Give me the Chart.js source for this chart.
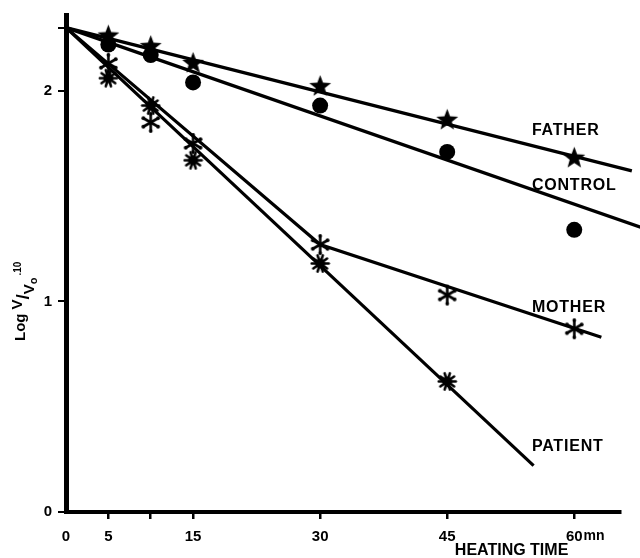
<!DOCTYPE html>
<html>
<head>
<meta charset="utf-8">
<script src="https://cdn.jsdelivr.net/npm/chart.js@4.4.1/dist/chart.umd.min.js"></script>
<style>
  html, body { margin: 0; padding: 0; background: #fff; }
  canvas { display: block; }
</style>
</head>
<body>
<canvas id="heatChart" width="640" height="558"></canvas>
<script>
// heating time (mn) and log values
const times = [5, 10, 15, 30, 45, 60];
const fatherValues = [2.26, 2.21, 2.13, 2.02, 1.86, 1.68];
const controlValues = [2.22, 2.17, 2.04, 1.93, 1.71, 1.34];
const motherValues = [2.13, 1.85, 1.75, 1.27, 1.03, 0.87];
const patientTimes = [5, 10, 15, 30, 45];
const patientValues = [2.06, 1.93, 1.67, 1.18, 0.62];

// drawn regression lines (time, value)
const fatherLine = [[0, 2.3], [66.8, 1.62]];
const controlLine = [[0, 2.3], [68, 1.35]];
const motherLine = [[0, 2.3], [30, 1.27], [63.2, 0.83]];
const patientLine = [[0, 2.3], [55.2, 0.22]];

// axis ticks
const xTicks = [0, 5, 10, 15, 30, 45, 60];
const xTickLabels = ['0', '5', '', '15', '30', '45', '60'];
const yTicks = [0, 1, 2, 2.3];
const yTickLabels = ['0', '1', '2', ''];

// curve names and where they sit (time, value)
const seriesNames = ['FATHER', 'CONTROL', 'MOTHER', 'PATIENT'];
const nameAnchors = [[55, 1.81], [55, 1.55], [55, 0.97], [55, 0.31]];

const FONT = '"Liberation Sans", Arial, Helvetica, sans-serif';

//マーカー画像
function makeStar(r) {
  const c = document.createElement('canvas');
  const s = Math.ceil(2 * r + 4);
  c.width = c.height = s;
  const g = c.getContext('2d');
  g.translate(s / 2, s / 2);
  g.beginPath();
  for (let i = 0; i < 10; i++) {
    const rad = i % 2 ? r * 0.42 : r;
    const a = -Math.PI / 2 + i * Math.PI / 5;
    g.lineTo(rad * Math.cos(a), rad * Math.sin(a));
  }
  g.closePath();
  g.fillStyle = '#000';
  g.fill();
  return c;
}

function makeAsterisk(r) {
  const c = document.createElement('canvas');
  const s = Math.ceil(2 * r + 6);
  c.width = c.height = s;
  const g = c.getContext('2d');
  g.translate(s / 2, s / 2);
  g.strokeStyle = '#000';
  g.fillStyle = '#000';
  g.lineWidth = 2.6;
  g.lineCap = 'round';
  for (let i = 0; i < 6; i++) {
    const a = Math.PI / 2 + i * Math.PI / 3;
    g.beginPath();
    g.moveTo(0, 0);
    g.lineTo(r * Math.cos(a), r * Math.sin(a));
    g.stroke();
    g.beginPath();
    g.arc(r * Math.cos(a), r * Math.sin(a), 1.9, 0, Math.PI * 2);
    g.fill();
  }
  return c;
}

function makeSplat(r) {
  const c = document.createElement('canvas');
  const s = Math.ceil(2 * r + 4);
  c.width = c.height = s;
  const g = c.getContext('2d');
  g.translate(s / 2, s / 2);
  g.fillStyle = '#000';
  g.strokeStyle = '#000';
  g.beginPath();
  g.arc(0, 0, r * 0.6, 0, Math.PI * 2);
  g.fill();
  g.lineWidth = 2.6;
  g.lineCap = 'round';
  for (let i = 0; i < 10; i++) {
    const a = i * Math.PI / 5;
    g.beginPath();
    g.moveTo(0, 0);
    g.lineTo(r * Math.cos(a), r * Math.sin(a));
    g.stroke();
  }
  return c;
}

function toPoints(xs, ys) {
  return xs.map((x, i) => ({ x: x, y: ys[i] }));
}
function linePoints(arr) {
  return arr.map(p => ({ x: p[0], y: p[1] }));
}

function fitLine(label, arr) {
  return {
    label: label,
    data: linePoints(arr),
    showLine: true,
    borderColor: '#000',
    borderWidth: 3.2,
    pointRadius: 0,
    clip: false,
  };
}
function markers(label, data, style, radius) {
  return {
    label: label,
    data: data,
    showLine: false,
    pointStyle: style,
    pointRadius: radius,
    backgroundColor: '#000',
    borderColor: '#000',
    borderWidth: 0,
    clip: false,
  };
}

//文字の描画（系列名・軸タイトル）
const annotate = {
  id: 'annotate',
  afterDraw(chart) {
    const ctx = chart.ctx;
    const xs = chart.scales.x;
    const ys = chart.scales.y;
    ctx.save();
    ctx.fillStyle = '#000';

    // curve names
    ctx.font = 'bold 16px ' + FONT;
    ctx.letterSpacing = '0.8px';
    ctx.textAlign = 'left';
    ctx.textBaseline = 'middle';
    seriesNames.forEach((name, i) => {
      ctx.fillText(name, xs.getPixelForValue(nameAnchors[i][0]), ys.getPixelForValue(nameAnchors[i][1]));
    });

    // "mn" after the 60 tick label
    ctx.letterSpacing = '0px';
    ctx.font = 'bold 15px ' + FONT;
    const w60 = ctx.measureText('60').width;
    ctx.font = 'bold 14px ' + FONT;
    ctx.fillText('mn', xs.getPixelForValue(60) + w60 / 2 + 1, xs.top + 24);

    // x title
    ctx.font = 'bold 16px ' + FONT;
    ctx.textAlign = 'center';
    ctx.textBaseline = 'alphabetic';
    ctx.fillText('HEATING TIME', xs.getPixelForValue(52.6), 555);

    // y title: Log V/Vo .10 (rotated)
    ctx.translate(25, 341);
    ctx.rotate(-Math.PI / 2);
    ctx.textAlign = 'left';
    let px = 0;
    const part = (txt, size, dy) => {
      ctx.font = 'bold ' + size + 'px ' + FONT;
      ctx.fillText(txt, px, dy);
      px += ctx.measureText(txt).width;
    };
    part('Log', 15, 0);
    px += 4;
    part('V', 15, -3);
    part('/', 19, 4);
    part('V', 15, 9);
    part('o', 11, 12);
    px += 2;
    part('.10', 10, -4);
    ctx.restore();
  }
};

const ctx = document.getElementById('heatChart').getContext('2d');
window.heatChart = new Chart(ctx, {
  type: 'scatter',
  data: {
    datasets: [
      fitLine('FATHER line', fatherLine),
      fitLine('CONTROL line', controlLine),
      fitLine('MOTHER line', motherLine),
      fitLine('PATIENT line', patientLine),
      markers('FATHER', toPoints(times, fatherValues), makeStar(11.5), 11),
      markers('CONTROL', toPoints(times, controlValues), 'circle', 8),
      markers('MOTHER', toPoints(times, motherValues), makeAsterisk(8.5), 8),
      markers('PATIENT', toPoints(patientTimes, patientValues), makeSplat(8.5), 8),
    ]
  },
  options: {
    responsive: false,
    animation: false,
    events: [],
    layout: { padding: { left: 0, top: 10, right: 20, bottom: 0 } },
    plugins: {
      legend: { display: false },
      tooltip: { enabled: false },
    },
    scales: {
      x: {
        type: 'linear',
        min: 0,
        max: 65.4,
        afterBuildTicks: (scale) => { scale.ticks = xTicks.map(v => ({ value: v })); },
        afterFit: (scale) => { scale.height = 46; },
        ticks: {
          autoSkip: false,
          maxRotation: 0,
          padding: 9,
          color: '#000',
          font: { family: FONT, size: 15, weight: 'bold' },
          callback: (v) => xTickLabels[xTicks.indexOf(v)],
        },
        grid: {
          display: true,
          drawOnChartArea: false,
          drawTicks: true,
          tickLength: 7,
          lineWidth: 2.5,
          color: (c) => (c.tick && c.tick.value === 0) ? 'rgba(0,0,0,0)' : '#000',
        },
        border: { display: true, color: '#000', width: 4 },
      },
      y: {
        type: 'linear',
        min: 0,
        max: 2.36,
        afterBuildTicks: (scale) => { scale.ticks = yTicks.map(v => ({ value: v })); },
        afterFit: (scale) => { scale.width = 66; },
        ticks: {
          autoSkip: false,
          padding: 6,
          color: '#000',
          font: { family: FONT, size: 15, weight: 'bold' },
          callback: (v) => yTickLabels[yTicks.indexOf(v)],
        },
        grid: {
          display: true,
          drawOnChartArea: false,
          drawTicks: true,
          tickLength: 8,
          lineWidth: 2,
          color: '#000',
        },
        border: { display: true, color: '#000', width: 5 },
      }
    }
  },
  plugins: [annotate]
});
</script>
</body>
</html>
